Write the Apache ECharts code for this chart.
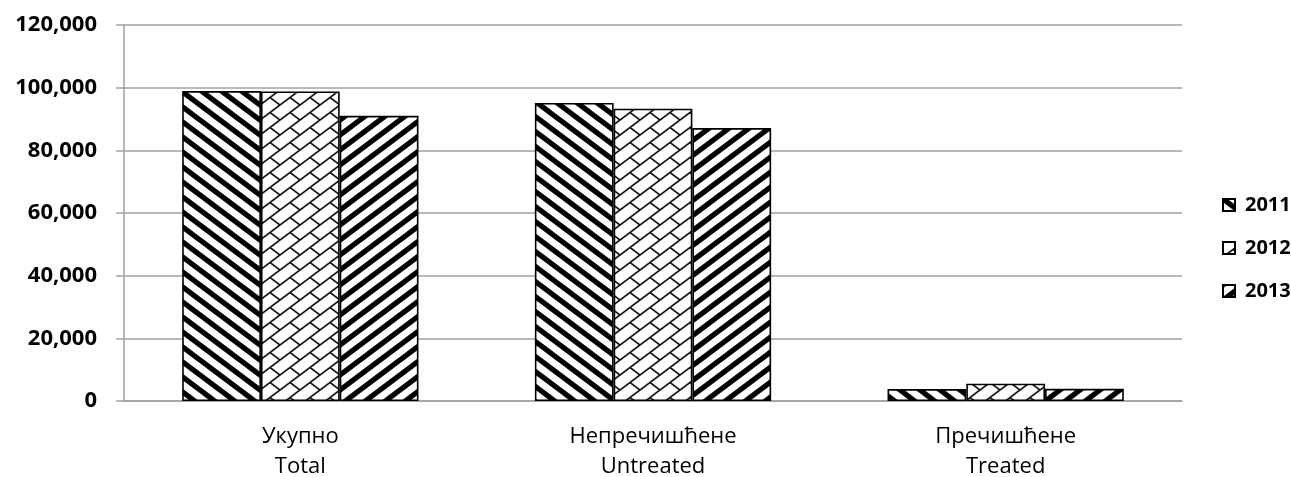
<!DOCTYPE html>
<html>
<head>
<meta charset="utf-8">
<script src="https://cdn.jsdelivr.net/npm/echarts@6/dist/echarts.min.js"></script>
<style>
html,body{margin:0;padding:0;background:#fff;}
#chart{width:1291px;height:477px;}
</style>
</head>
<body>
<div id="chart"></div>
<script>
// Data
const categories = ['Укупно\nTotal', 'Непречишћене\nUntreated', 'Пречишћене\nTreated'];
const seriesNames = ['2011', '2012', '2013'];
const values2011 = [98900, 95100, 3800];
const values2012 = [98800, 93300, 5500];
const values2013 = [91000, 87100, 3900];
const yTicks = { min: 0, max: 120000, interval: 20000 };

// Patterns (8x8 unit tiles scaled to 20x15 px, like the reference)
const TW = 20, TH = 15, SX = TW / 8, SY = TH / 8;
function makeTile(draw) {
  const c = document.createElement('canvas');
  c.width = TW; c.height = TH;
  const g = c.getContext('2d');
  g.fillStyle = '#fff'; g.fillRect(0, 0, TW, TH);
  g.save(); g.scale(SX, SY); draw(g); g.restore();
  return c;
}
function stripePattern(dir) {
  return makeTile(g => {
    g.strokeStyle = '#000'; g.lineWidth = 2.5;
    for (let k = -1; k <= 1; k++) {
      g.beginPath();
      if (dir === 'back') { g.moveTo(k * 8 - 2, -2); g.lineTo(k * 8 + 10, 10); }
      else { g.moveTo(k * 8 - 2, 10); g.lineTo(k * 8 + 10, -2); }
      g.stroke();
    }
  });
}
function brickPattern() {
  return makeTile(g => {
    g.strokeStyle = '#111'; g.lineWidth = 0.8;
    for (let s = -16; s <= 32; s += 8) {
      g.beginPath(); g.moveTo(s + 2, -2); g.lineTo(-2, s + 2); g.stroke();
    }
    for (let s = -24; s <= 32; s += 8) {
      const k = Math.round(s / 8);
      const off = (((k % 2) + 2) % 2) === 0 ? 0 : 8;
      for (let d = -40 + off; d <= 40; d += 16) {
        g.beginPath();
        g.moveTo((s + d) / 2, (s - d) / 2);
        g.lineTo((s + 8 + d) / 2, (s + 8 - d) / 2);
        g.stroke();
      }
    }
  });
}
const patterns = [
  { image: stripePattern('back'), repeat: 'repeat' },
  { image: brickPattern(), repeat: 'repeat' },
  { image: stripePattern('fwd'), repeat: 'repeat' }
];

const font = '"Open Sans", "Noto Sans", sans-serif';
const dataSets = [values2011, values2012, values2013];

const chart = echarts.init(document.getElementById('chart'), null, { renderer: 'canvas' });
chart.setOption({
  animation: false,
  backgroundColor: '#fff',
  grid: { left: 124, right: 109, top: 25, bottom: 76, containLabel: false, outerBoundsMode: 'none' },
  legend: {
    orient: 'vertical',
    left: 1222,
    top: 195,
    padding: 0,
    itemWidth: 12,
    itemHeight: 12,
    itemGap: 23,
    icon: 'rect',
    data: seriesNames,
    textStyle: { fontFamily: font, fontWeight: 'bold', fontSize: 20, color: '#000', padding: [0, 0, 0, 5] }
  },
  xAxis: {
    type: 'category',
    data: categories,
    axisLine: { lineStyle: { color: '#a0a0a0', width: 1.5 } },
    axisTick: { show: false },
    axisLabel: { fontFamily: font, fontSize: 22, color: '#000', lineHeight: 30, margin: 21 }
  },
  yAxis: {
    type: 'value',
    min: yTicks.min, max: yTicks.max, interval: yTicks.interval,
    axisLine: { show: true, lineStyle: { color: '#a0a0a0', width: 1.5 } },
    axisTick: { show: true, length: 8, lineStyle: { color: '#a0a0a0', width: 1.5 } },
    splitLine: { lineStyle: { color: '#a0a0a0', width: 1.5 } },
    axisLabel: {
      fontFamily: font, fontSize: 22, fontWeight: 'bold', color: '#000', margin: 27,
      formatter: v => v.toLocaleString('en-US')
    }
  },
  series: seriesNames.map((name, i) => ({
    name: name,
    type: 'bar',
    data: dataSets[i],
    barGap: '0%',
    barCategoryGap: '33%',
    itemStyle: { color: patterns[i], borderColor: '#000', borderWidth: 1.6 }
  }))
});
</script>
</body>
</html>
